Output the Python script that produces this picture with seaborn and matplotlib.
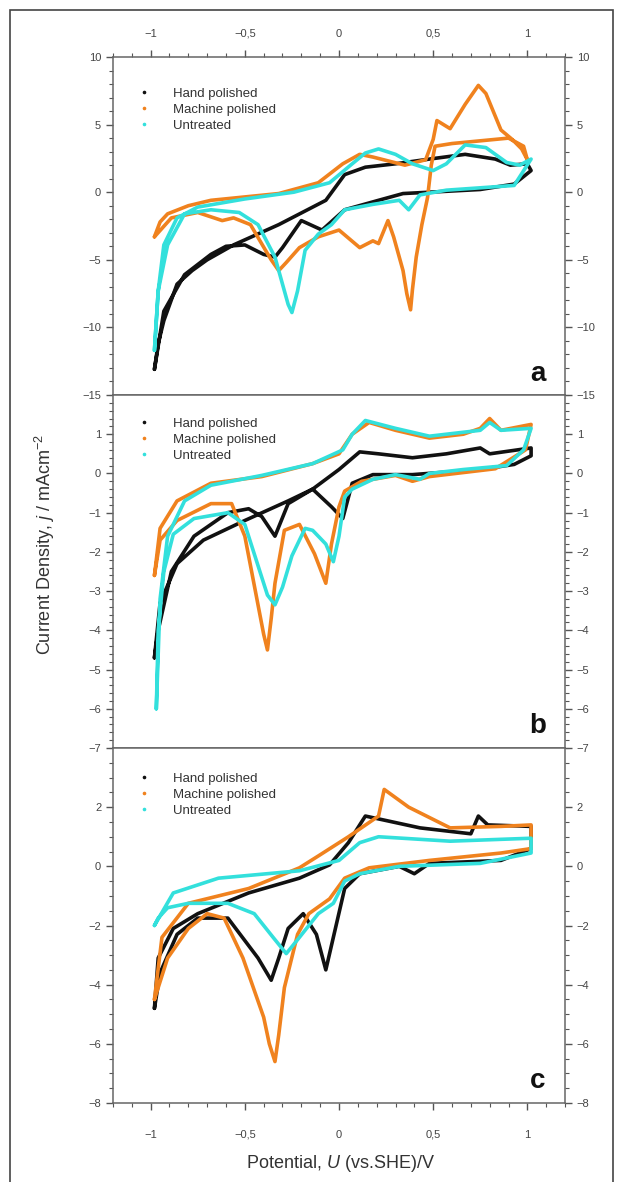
import numpy as np
import pandas as pd
import matplotlib
matplotlib.use('Agg')
import matplotlib.pyplot as plt
import seaborn as sns
from matplotlib.lines import Line2D
from matplotlib.patches import Rectangle
from matplotlib.ticker import MultipleLocator, FixedLocator

# sample names and colours
samples = ['Hand polished', 'Machine polished', 'Untreated']
colors = ['#111111', '#F0821E', '#33E0DC']

# panel a (loops: forward scan then reverse scan)
a_hand_x = [-0.98, -0.96, -0.93, -0.86, -0.78, -0.7, -0.56, -0.32, -0.07, 0.03, 0.14, 0.3, 0.48, 0.67, 0.83, 0.91,
            1.0, 1.02, 0.93, 0.75, 0.48, 0.34, 0.21, 0.03, -0.09, -0.2, -0.3, -0.34, -0.4, -0.5, -0.6,
            -0.68, -0.82, -0.93, -0.98]
a_hand_y = [-13.1, -11.2, -9.5, -6.8, -5.8, -5.0, -3.9, -2.4, -0.6, 1.3, 1.85, 2.1, 2.45, 2.8, 2.45, 2.0,
            2.1, 1.6, 0.6, 0.2, 0.0, -0.1, -0.6, -1.3, -2.8, -2.1, -4.1, -4.8, -4.6, -3.9, -4.0,
            -4.6, -6.1, -8.8, -13.1]
a_mach_x = [-0.98, -0.95, -0.91, -0.8, -0.68, -0.32, -0.11, 0.02, 0.11, 0.18, 0.35, 0.46, 0.5, 0.52, 0.59, 0.67,
            0.74, 0.78, 0.86, 0.92, 0.97, 1.0, 0.98, 0.9, 0.75, 0.6, 0.51, 0.49, 0.47, 0.44, 0.41, 0.39,
            0.38, 0.36, 0.34, 0.29, 0.26, 0.21, 0.18, 0.11, 0.0, -0.11, -0.21, -0.28, -0.32, -0.36, -0.39,
            -0.47, -0.56, -0.62, -0.75, -0.89, -0.98]
a_mach_y = [-3.3, -2.2, -1.6, -1.0, -0.6, -0.1, 0.7, 2.1, 2.8, 2.6, 2.0, 2.4, 3.9, 5.3, 4.7, 6.5,
            7.9, 7.3, 4.6, 3.9, 3.2, 2.4, 3.4, 4.0, 3.8, 3.6, 3.4, 2.0, -0.4, -2.4, -4.8, -7.2,
            -8.7, -7.5, -5.8, -3.3, -2.1, -3.8, -3.6, -4.1, -2.8, -3.3, -4.1, -5.2, -5.8, -5.0, -4.3,
            -2.4, -1.9, -2.1, -1.5, -1.9, -3.3]
a_untr_x = [-0.98, -0.96, -0.93, -0.86, -0.75, -0.5, -0.24, -0.05, 0.07, 0.14, 0.21, 0.3, 0.39, 0.5, 0.57, 0.67,
            0.78, 0.89, 0.96, 1.02, 0.93, 0.57, 0.43, 0.37, 0.32, 0.18, 0.03, -0.04, -0.11, -0.18, -0.2,
            -0.22, -0.25, -0.27, -0.29, -0.34, -0.43, -0.53, -0.68, -0.82, -0.91, -0.96, -0.98]
a_untr_y = [-11.7, -7.3, -3.9, -1.9, -1.1, -0.5, 0.0, 0.7, 2.1, 2.9, 3.2, 2.8, 2.1, 1.6, 2.1, 3.5,
            3.3, 2.2, 2.0, 2.45, 0.5, 0.15, -0.2, -1.3, -0.6, -0.9, -1.3, -2.4, -3.1, -4.3, -5.8,
            -7.3, -8.9, -8.3, -7.3, -4.8, -2.4, -1.5, -1.3, -1.6, -3.9, -7.3, -11.7]

# panel b
b_hand_x = [-0.98, -0.95, -0.86, -0.72, -0.5, -0.27, -0.14, 0.0, 0.11, 0.21, 0.39, 0.57, 0.75, 0.8, 1.02,
            1.02, 0.93, 0.75, 0.39, 0.18, 0.07, 0.02, -0.04, -0.14, -0.27, -0.34, -0.41, -0.48, -0.59,
            -0.77, -0.89, -0.96, -0.98]
b_hand_y = [-4.7, -3.3, -2.3, -1.7, -1.2, -0.7, -0.4, 0.1, 0.55, 0.5, 0.4, 0.5, 0.65, 0.5, 0.65,
            0.45, 0.23, 0.1, -0.03, -0.03, -0.25, -1.15, -0.85, -0.4, -0.77, -1.6, -1.1, -0.9, -1.0,
            -1.6, -2.5, -4.0, -4.7]
b_mach_x = [-0.98, -0.95, -0.86, -0.68, -0.41, -0.14, 0.0, 0.07, 0.16, 0.3, 0.48, 0.66, 0.75, 0.8, 0.86, 1.02,
            0.99, 0.83, 0.48, 0.39, 0.3, 0.12, 0.03, 0.0, -0.04, -0.07, -0.13, -0.21, -0.29, -0.34, -0.36,
            -0.38, -0.4, -0.43, -0.5, -0.57, -0.68, -0.86, -0.95, -0.98]
b_mach_y = [-2.6, -1.4, -0.7, -0.25, -0.08, 0.25, 0.5, 1.0, 1.3, 1.1, 0.9, 1.0, 1.15, 1.4, 1.1, 1.25,
            0.6, 0.12, -0.08, -0.2, -0.05, -0.2, -0.45, -0.85, -1.8, -2.8, -2.05, -1.3, -1.45, -2.8, -3.7,
            -4.5, -4.1, -3.35, -1.6, -0.77, -0.77, -1.2, -1.7, -2.6]
b_untr_x = [-0.97, -0.95, -0.91, -0.82, -0.68, -0.41, -0.14, 0.02, 0.07, 0.14, 0.3, 0.48, 0.75, 0.8, 0.86, 1.02,
            0.98, 0.89, 0.66, 0.48, 0.43, 0.3, 0.18, 0.07, 0.03, 0.0, -0.03, -0.07, -0.14, -0.18, -0.25,
            -0.3, -0.34, -0.38, -0.41, -0.5, -0.59, -0.77, -0.88, -0.93, -0.96, -0.97]
b_untr_y = [-6.0, -3.2, -1.6, -0.7, -0.3, -0.05, 0.25, 0.6, 1.0, 1.35, 1.15, 0.95, 1.1, 1.3, 1.1, 1.15,
            0.6, 0.2, 0.1, 0.0, -0.15, -0.03, -0.15, -0.4, -0.6, -1.6, -2.25, -1.8, -1.45, -1.4, -2.1,
            -2.9, -3.35, -3.1, -2.65, -1.3, -1.0, -1.15, -1.55, -2.5, -4.0, -6.0]

# panel c
c_hand_x = [-0.98, -0.96, -0.88, -0.75, -0.48, -0.21, -0.05, 0.05, 0.14, 0.43, 0.7, 0.74, 0.79, 1.02,
            1.02, 0.86, 0.48, 0.4, 0.32, 0.11, 0.03, -0.03, -0.07, -0.12, -0.19, -0.27, -0.32, -0.36,
            -0.43, -0.59, -0.75, -0.86, -0.95, -0.98]
c_hand_y = [-4.8, -3.1, -2.1, -1.6, -0.9, -0.4, 0.05, 0.8, 1.7, 1.3, 1.1, 1.7, 1.4, 1.35,
            0.6, 0.2, 0.1, -0.25, 0.0, -0.25, -0.75, -2.4, -3.5, -2.3, -1.6, -2.1, -3.1, -3.85,
            -3.1, -1.75, -1.75, -2.3, -3.6, -4.8]
c_mach_x = [-0.98, -0.94, -0.8, -0.48, -0.21, -0.11, 0.05, 0.21, 0.24, 0.37, 0.59, 0.86, 1.02,
            1.02, 0.86, 0.48, 0.16, 0.03, -0.05, -0.16, -0.22, -0.29, -0.32, -0.34, -0.37, -0.4, -0.51,
            -0.61, -0.7, -0.8, -0.91, -0.96, -0.98]
c_mach_y = [-4.5, -2.4, -1.25, -0.75, -0.05, 0.35, 1.0, 1.7, 2.6, 2.0, 1.3, 1.35, 1.4,
            0.6, 0.45, 0.2, -0.05, -0.4, -1.1, -1.6, -2.3, -4.1, -5.7, -6.6, -6.0, -5.1, -3.1,
            -1.75, -1.6, -2.1, -3.1, -4.1, -4.5]
c_untr_x = [-0.98, -0.88, -0.64, -0.21, 0.0, 0.11, 0.21, 0.59, 1.02,
            1.02, 0.75, 0.32, 0.11, 0.03, -0.03, -0.11, -0.21, -0.28, -0.35, -0.45, -0.59, -0.8, -0.91,
            -0.96, -0.98]
c_untr_y = [-2.0, -0.9, -0.4, -0.15, 0.2, 0.8, 1.0, 0.85, 0.95,
            0.45, 0.1, 0.0, -0.25, -0.5, -1.25, -1.6, -2.4, -2.95, -2.4, -1.6, -1.25, -1.25, -1.4,
            -1.75, -2.0]

x_ticks = [-1, -0.5, 0, 0.5, 1]
x_ticklabels = ['\u22121', '\u22120,5', '0', '0,5', '1']
a_yticks = [10, 5, 0, -5, -10, -15]
b_yticks = [1, 0, -1, -2, -3, -4, -5, -6, -7]
c_yticks = [2, 0, -2, -4, -6, -8]

sns.set_style('ticks')
plt.rcParams['font.family'] = ['Liberation Sans', 'DejaVu Sans']
plt.rcParams['mathtext.fontset'] = 'custom'
plt.rcParams['mathtext.rm'] = 'Liberation Sans'
plt.rcParams['mathtext.it'] = 'Liberation Sans:italic'

fig = plt.figure(figsize=(6.23, 11.82), dpi=100)
left, width = 113 / 623, 452 / 623
ax_a = fig.add_axes([left, 1 - 395 / 1182, width, 338 / 1182])
ax_b = fig.add_axes([left, 1 - 748 / 1182, width, 353 / 1182])
ax_c = fig.add_axes([left, 1 - 1103 / 1182, width, 355 / 1182])

panels = [
    (ax_a, [(a_hand_x, a_hand_y), (a_mach_x, a_mach_y), (a_untr_x, a_untr_y)], (-15, 10), a_yticks, 1, 'a', 0.945),
    (ax_b, [(b_hand_x, b_hand_y), (b_mach_x, b_mach_y), (b_untr_x, b_untr_y)], (-7, 2), b_yticks, 0.2, 'b', 0.97),
    (ax_c, [(c_hand_x, c_hand_y), (c_mach_x, c_mach_y), (c_untr_x, c_untr_y)], (-8, 4), c_yticks, 0.5, 'c', 0.965),
]

tick_col = '#555555'
for i, (ax, curves, ylim, yt, minor, letter, leg_y) in enumerate(panels):
    frames = []
    for name, (xs, ys) in zip(samples, curves):
        frames.append(pd.DataFrame({'U': xs, 'j': ys, 'sample': name}))
    df = pd.concat(frames, ignore_index=True)
    sns.lineplot(data=df, x='U', y='j', hue='sample', palette=colors, sort=False,
                 estimator=None, linewidth=2.6, ax=ax, legend=False)
    ax.set_xlim(-1.2, 1.2)
    ax.set_ylim(*ylim)
    ax.set_xlabel('')
    ax.set_ylabel('')
    ax.yaxis.set_major_locator(FixedLocator(yt))
    ax.set_yticklabels([str(v).replace('-', '\u2212') for v in yt])
    ax.yaxis.set_minor_locator(MultipleLocator(minor))
    ax.xaxis.set_major_locator(FixedLocator(x_ticks))
    ax.xaxis.set_minor_locator(MultipleLocator(0.1))
    ax.set_xticklabels(x_ticklabels)
    ax.tick_params(axis='both', which='both', direction='out', colors=tick_col,
                   labelsize=8, labelcolor='#444444')
    ax.tick_params(which='major', length=5, width=1)
    ax.tick_params(which='minor', length=3, width=0.8)
    ax.tick_params(axis='x', which='major', pad=(8 if i == 0 else 20))
    ax.tick_params(axis='y', which='both', left=True, right=True, labelleft=True, labelright=True)
    ax.tick_params(axis='x', which='both', top=(i == 0), labeltop=(i == 0),
                   bottom=(i == 2), labelbottom=(i == 2))
    if i == 2:
        for lbl in ax.get_xticklabels():
            lbl.set_verticalalignment('baseline')
    for s in ax.spines.values():
        s.set_visible(True)
        s.set_color('#666666')
        s.set_linewidth(1.1)
    handles = [Line2D([], [], marker='o', markersize=1.6, linestyle='none', color=c) for c in colors]
    leg = ax.legend(handles, samples, loc='upper left', bbox_to_anchor=(0.02, leg_y), frameon=False,
                    fontsize=9.5, labelspacing=0.3, handletextpad=1.5, handlelength=1.5)
    for t in leg.get_texts():
        t.set_color('#333333')
    ax.text(0.94, 0.025, letter, transform=ax.transAxes, fontsize=20, fontweight='bold',
            ha='center', va='bottom', color='#111111')

fig.text(45 / 623, 1 - 545 / 1182, 'Current Density, $\\it{j}$ / mAcm$^{-2}$', rotation=90,
         ha='center', va='center', fontsize=13, color='#333333')
fig.text(340 / 623, 1 - 1163 / 1182, 'Potential, $\\it{U}$ (vs.SHE)/V', ha='center', va='center',
         fontsize=13, color='#333333')
fig.patches.append(Rectangle((10 / 623, -0.01), 603 / 623, 1.01 - 10 / 1182, transform=fig.transFigure,
                             fill=False, edgecolor='#444444', linewidth=1.2))

fig.savefig('out.png', dpi=100)
